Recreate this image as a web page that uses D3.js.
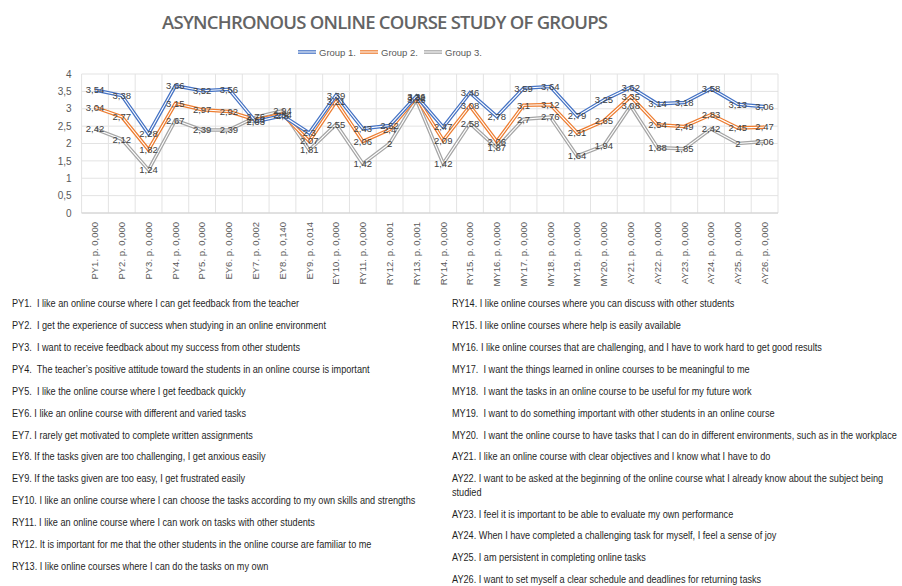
<!DOCTYPE html>
<html>
<head>
<meta charset="utf-8">
<script src="https://cdn.jsdelivr.net/npm/d3@7"></script>
<style>
  body { margin: 0; background: #fff; }
  svg { font-family: "Liberation Sans", Arial, sans-serif; }
</style>
</head>
<body>
<svg id="chart" width="902" height="586"></svg>
<script>
// item codes with their p values
var items = ['PY1. p. 0,000', 'PY2. p. 0,000', 'PY3. p. 0,000', 'PY4. p. 0,000', 'PY5. p. 0,000',
    'EY6. p. 0,000', 'EY7. p. 0,002', 'EY8. p. 0,140', 'EY9. p. 0,014', 'EY10. p. 0,000',
    'RY11. p. 0,000', 'RY12. p. 0,001', 'RY13. p. 0,001', 'RY14. p. 0,000', 'RY15. p. 0,000',
    'MY16. p. 0,000', 'MY17. p. 0,000', 'MY18. p. 0,000', 'MY19. p. 0,000', 'MY20. p. 0,000',
    'AY21. p. 0,000', 'AY22. p. 0,000', 'AY23. p. 0,000', 'AY24. p. 0,000', 'AY25. p. 0,000',
    'AY26. p. 0,000'];

var group1 = [3.54, 3.38, 2.28, 3.66, 3.52, 3.56, 2.63, 2.8, 2.3, 3.39, 2.43, 2.52, 3.36,
    2.47, 3.46, 2.78, 3.59, 3.64, 2.79, 3.25, 3.62, 3.14, 3.18, 3.58, 3.13, 3.06];
var group2 = [3.04, 2.77, 1.82, 3.15, 2.97, 2.92, 2.68, 2.84, 2.07, 3.21, 2.06, 2.4, 3.32,
    2.09, 3.08, 2.06, 3.1, 3.12, 2.31, 2.65, 3.35, 2.54, 2.49, 2.83, 2.45, 2.47];
var group3 = [2.42, 2.12, 1.24, 2.67, 2.39, 2.39, 2.76, 2.94, 1.81, 2.55, 1.42, 2, 3.26,
    1.42, 2.58, 1.87, 2.7, 2.76, 1.64, 1.94, 3.08, 1.88, 1.85, 2.42, 2, 2.06];

var seriesNames = ['Group 1.', 'Group 2.', 'Group 3.'];
var yTicks = [0, 0.5, 1, 1.5, 2, 2.5, 3, 3.5, 4];

var leftNotes = [
    'PY1.  I like an online course where I can get feedback from the teacher',
    'PY2.  I get the experience of success when studying in an online environment',
    'PY3.  I want to receive feedback about my success from other students',
    'PY4.  The teacher\u2019s positive attitude toward the students in an online course is important',
    'PY5.  I like the online course where I get feedback quickly',
    'EY6. I like an online course with different and varied tasks',
    'EY7. I rarely get motivated to complete written assignments',
    'EY8. If the tasks given are too challenging, I get anxious easily',
    'EY9. If the tasks given are too easy, I get frustrated easily',
    'EY10. I like an online course where I can choose the tasks according to my own skills and strengths',
    'RY11. I like an online course where I can work on tasks with other students',
    'RY12. It is important for me that the other students in the online course are familiar to me',
    'RY13. I like online courses where I can do the tasks on my own'
];
var rightNotes = [
    'RY14. I like online courses where you can discuss with other students',
    'RY15. I like online courses where help is easily available',
    'MY16. I like online courses that are challenging, and I have to work hard to get good results',
    'MY17.  I want the things learned in online courses to be meaningful to me',
    'MY18.  I want the tasks in an online course to be useful for my future work',
    'MY19.  I want to do something important with other students in an online course',
    'MY20.  I want the online course to have tasks that I can do in different environments, such as in the workplace',
    'AY21. I like an online course with clear objectives and I know what I have to do',
    ['AY22. I want to be asked at the beginning of the online course what I already know about the subject being', 'studied'],
    'AY23. I feel it is important to be able to evaluate my own performance',
    'AY24. When I have completed a challenging task for myself, I feel a sense of joy',
    'AY25. I am persistent in completing online tasks',
    'AY26. I want to set myself a clear schedule and deadlines for returning tasks'
];

var svg = d3.select('svg#chart');
var colors = ['#4472C4', '#ED7D31', '#A5A5A5'];
var fmt = function (v) { return String(v).replace('.', ','); };

var plot = { left: 81.6, right: 778, top: 74, bottom: 213 };

var x = d3.scaleBand().domain(items).range([plot.left, plot.right]);
var y = d3.scaleLinear().domain([0, 4]).range([plot.bottom, plot.top]);

// title
svg.append('text')
    .attr('x', 162).attr('y', 29)
    .attr('textLength', 446).attr('lengthAdjust', 'spacing')
    .style('font-family', '"Open Sans", sans-serif')
    .style('font-size', '18.5px').style('font-weight', '600')
    .style('fill', '#646464')
    .text('ASYNCHRONOUS ONLINE COURSE STUDY OF GROUPS');

// legend
var legendX = [298, 360, 424];
seriesNames.forEach(function (name, i) {
    var g = svg.append('g').attr('transform', 'translate(' + legendX[i] + ',52)');
    g.append('line').attr('x1', 0).attr('x2', 18).attr('y1', 0).attr('y2', 0)
        .attr('stroke', colors[i]).attr('stroke-width', 3.6);
    g.append('line').attr('x1', 0).attr('x2', 18).attr('y1', 0).attr('y2', 0)
        .attr('stroke', '#fff').attr('stroke-width', 1.1);
    g.append('text').attr('x', 21).attr('y', 3.5)
        .style('font-size', '9.5px').style('fill', '#595959').text(name);
});

// gridlines
var grid = svg.append('g').attr('class', 'grid');
yTicks.forEach(function (t) {
    grid.append('line')
        .attr('x1', plot.left).attr('x2', plot.right)
        .attr('y1', y(t)).attr('y2', y(t))
        .attr('stroke', '#E3E3E3').attr('stroke-width', 1);
});
items.concat([null]).forEach(function (d, i) {
    var xx = plot.left + i * x.bandwidth();
    grid.append('line')
        .attr('x1', xx).attr('x2', xx)
        .attr('y1', plot.top).attr('y2', plot.bottom)
        .attr('stroke', '#E3E3E3').attr('stroke-width', 1);
});
grid.append('line')
    .attr('x1', plot.left).attr('x2', plot.right)
    .attr('y1', plot.bottom).attr('y2', plot.bottom)
    .attr('stroke', '#D0D0D0').attr('stroke-width', 1);

// y axis labels
var yAxis = svg.append('g')
    .attr('transform', 'translate(' + (plot.left - 10) + ',0)')
    .call(d3.axisLeft(y).tickValues(yTicks).tickSize(0).tickPadding(0).tickFormat(fmt));
yAxis.select('.domain').remove();
yAxis.selectAll('text').style('font-size', '10px').style('fill', '#595959')
    .style('font-family', '"Liberation Sans", Arial, sans-serif');

// x axis labels (rotated)
var xAxis = svg.append('g')
    .attr('transform', 'translate(0,' + (plot.bottom + 9) + ')')
    .call(d3.axisBottom(x).tickSize(0).tickPadding(0));
xAxis.select('.domain').remove();
xAxis.selectAll('text')
    .attr('transform', 'rotate(-90)')
    .attr('x', 0).attr('y', 0).attr('dy', '0.35em')
    .style('text-anchor', 'end')
    .style('font-size', '9.5px').style('fill', '#595959')
    .style('font-family', '"Liberation Sans", Arial, sans-serif');

// lines
var line = d3.line()
    .x(function (d, i) { return x(items[i]) + x.bandwidth() / 2; })
    .y(function (d) { return y(d); });

var allSeries = [group1, group2, group3];
var lines = svg.append('g').attr('class', 'lines');
allSeries.slice().reverse().forEach(function (s, k) {
    var i = 2 - k;
    lines.append('path').datum(s).attr('d', line)
        .attr('fill', 'none').attr('stroke', colors[i])
        .attr('stroke-width', 3.6).attr('stroke-linejoin', 'miter');
    lines.append('path').datum(s).attr('d', line)
        .attr('fill', 'none').attr('stroke', '#fff')
        .attr('stroke-width', 1.1).attr('stroke-linejoin', 'miter');
});

// data labels
var labels = svg.append('g').attr('class', 'labels');
allSeries.forEach(function (s) {
    labels.selectAll(null).data(s).enter().append('text')
        .attr('x', function (d, i) { return x(items[i]) + x.bandwidth() / 2; })
        .attr('y', function (d) { return y(d); })
        .attr('dy', '0.35em')
        .style('text-anchor', 'middle')
        .style('font-size', '9.5px').style('fill', '#404040')
        .text(fmt);
});

// notes below chart
function notes(list, x0) {
    var g = svg.append('g').attr('transform', 'translate(' + x0 + ',0) scale(0.88,1)');
    var yy = 307.5;
    list.forEach(function (n) {
        var parts = Array.isArray(n) ? n : [n];
        parts.forEach(function (p, j) {
            g.append('text').attr('x', 0).attr('y', yy + j * 13.5)
                .style('font-size', '10.4px').style('fill', '#1f1f1f')
                .style('white-space', 'pre').text(p);
        });
        yy += 21.85 + (parts.length - 1) * 13.5;
    });
}
notes(leftNotes, 12);
notes(rightNotes, 452);
</script>
</body>
</html>
